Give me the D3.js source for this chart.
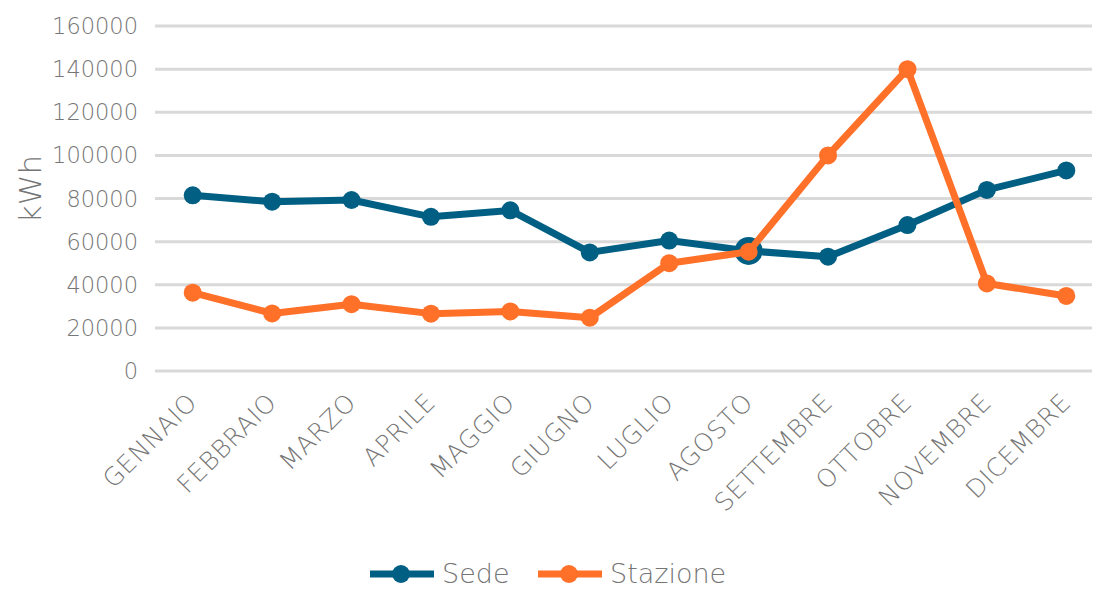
<!DOCTYPE html>
<html>
<head>
<meta charset="utf-8">
<script src="https://cdn.jsdelivr.net/npm/d3@7"></script>
<style>
  body { margin: 0; background: #fff; }
  text { font-family: "DejaVu Sans", sans-serif; font-weight: 200; fill: #767676; }
</style>
</head>
<body>
<svg id="chart" width="1095" height="590"></svg>
<script>
const months = ['GENNAIO', 'FEBBRAIO', 'MARZO', 'APRILE', 'MAGGIO', 'GIUGNO',
    'LUGLIO', 'AGOSTO', 'SETTEMBRE', 'OTTOBRE', 'NOVEMBRE', 'DICEMBRE'];
const sede = [81500, 78500, 79300, 71500, 74500, 55000, 60500, 55700, 53000, 67700, 84000, 93000];
const stazione = [36300, 26700, 31000, 26600, 27600, 24700, 50000, 55300, 100000, 140000, 40600, 34800];
const yTicks = [0, 20000, 40000, 60000, 80000, 100000, 120000, 140000, 160000];
const seriesNames = ['Sede', 'Stazione'];
const colors = ['#005f83', '#ff7028'];

const svg = d3.select('#chart');

const x = d3.scalePoint().domain(months).range([153, 1106]).padding(0.5);
const y = d3.scaleLinear().domain([0, 160000]).range([371, 26]);

// gridlines
svg.append('g')
    .selectAll('line')
    .data(yTicks)
    .enter()
    .append('line')
    .attr('x1', 155)
    .attr('x2', 1092)
    .attr('y1', d => y(d))
    .attr('y2', d => y(d))
    .attr('stroke', '#d9d9d9')
    .attr('stroke-width', 3);

// y axis labels
svg.append('g')
    .selectAll('text')
    .data(yTicks)
    .enter()
    .append('text')
    .attr('x', 138)
    .attr('y', d => y(d))
    .attr('dy', '0.36em')
    .attr('text-anchor', 'end')
    .style('font-size', '22.5px')
    .text(d => d);

svg.append('text')
    .attr('transform', 'translate(41,189) rotate(-90)')
    .attr('text-anchor', 'middle')
    .style('font-size', '31px')
    .text('kWh');

// x axis labels
svg.append('g')
    .selectAll('text')
    .data(months)
    .enter()
    .append('text')
    .attr('transform', d => `translate(${x(d) + 6},${404}) rotate(-45)`)
    .attr('text-anchor', 'end')
    .style('font-size', '25px')
    .style('letter-spacing', '0.6px')
    .text(d => d);

// lines
const data = [sede, stazione];
const line = d3.line()
    .x((d, i) => x(months[i]))
    .y(d => y(d));

data.forEach((vals, k) => {
    const g = svg.append('g');
    g.append('path')
        .datum(vals)
        .attr('d', line)
        .attr('fill', 'none')
        .attr('stroke', colors[k])
        .attr('stroke-width', 7)
        .attr('stroke-linejoin', 'round');
    g.selectAll('circle')
        .data(vals)
        .enter()
        .append('circle')
        .attr('cx', (d, i) => x(months[i]))
        .attr('cy', d => y(d))
        .attr('r', (d, i) => (k === 0 && i === 7) ? 14 : 9)
        .attr('fill', colors[k]);
});

// legend
const legend = svg.append('g');
const legendX = [370, 538];
seriesNames.forEach((name, k) => {
    const lg = legend.append('g').attr('transform', `translate(${legendX[k]},574)`);
    lg.append('line')
        .attr('x1', 0).attr('x2', 64)
        .attr('stroke', colors[k])
        .attr('stroke-width', 7);
    lg.append('circle')
        .attr('cx', 31).attr('r', 9)
        .attr('fill', colors[k]);
    lg.append('text')
        .attr('x', 72)
        .attr('dy', '0.33em')
        .style('font-size', '27px')
        .text(name);
});
</script>
</body>
</html>
